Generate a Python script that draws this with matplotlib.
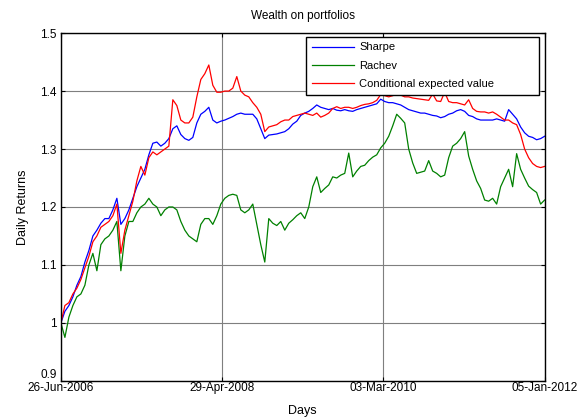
import numpy as np
import pandas as pd
import matplotlib
matplotlib.use("Agg")
import matplotlib.pyplot as plt
import matplotlib.dates as mdates
from matplotlib.ticker import FormatStrFormatter

plt.rcParams['font.family'] = ['Liberation Sans', 'DejaVu Sans']

start_date = "2006-06-26"
end_date = "2012-01-05"
tick_dates = ["2006-06-26", "2008-04-29", "2010-03-03", "2012-01-05"]

sharpe = [1.000, 1.020, 1.030, 1.045, 1.065, 1.080, 1.105, 1.125, 1.150, 1.160,
          1.172, 1.180, 1.180, 1.195, 1.215, 1.170, 1.180, 1.195, 1.215, 1.235,
          1.250, 1.265, 1.290, 1.310, 1.312, 1.305, 1.310, 1.318, 1.335, 1.340,
          1.325, 1.318, 1.315, 1.320, 1.345, 1.360, 1.365, 1.372, 1.350, 1.345,
          1.348, 1.350, 1.353, 1.356, 1.360, 1.362, 1.360, 1.360, 1.360, 1.352,
          1.335, 1.318, 1.324, 1.325, 1.326, 1.328, 1.330, 1.335, 1.343, 1.348,
          1.358, 1.362, 1.365, 1.370, 1.376, 1.372, 1.370, 1.368, 1.370, 1.367,
          1.366, 1.368, 1.366, 1.365, 1.368, 1.370, 1.372, 1.374, 1.376, 1.378,
          1.386, 1.382, 1.380, 1.380, 1.378, 1.376, 1.372, 1.368, 1.366, 1.364,
          1.362, 1.362, 1.360, 1.358, 1.357, 1.354, 1.356, 1.360, 1.362, 1.366,
          1.368, 1.365, 1.358, 1.356, 1.352, 1.350, 1.350, 1.350, 1.350, 1.352,
          1.350, 1.348, 1.368, 1.360, 1.352, 1.338, 1.328, 1.322, 1.320, 1.316,
          1.318, 1.322]

rachev = [1.000, 0.975, 1.010, 1.030, 1.045, 1.050, 1.065, 1.100, 1.120, 1.090,
          1.135, 1.145, 1.150, 1.160, 1.175, 1.090, 1.150, 1.175, 1.175, 1.190,
          1.200, 1.205, 1.215, 1.205, 1.200, 1.185, 1.195, 1.200, 1.200, 1.195,
          1.175, 1.160, 1.150, 1.145, 1.140, 1.170, 1.180, 1.180, 1.170, 1.185,
          1.205, 1.215, 1.220, 1.222, 1.220, 1.195, 1.190, 1.195, 1.205, 1.170,
          1.135, 1.105, 1.180, 1.172, 1.168, 1.175, 1.160, 1.172, 1.178, 1.185,
          1.190, 1.180, 1.200, 1.235, 1.252, 1.225, 1.232, 1.238, 1.252, 1.250,
          1.255, 1.258, 1.293, 1.252, 1.262, 1.270, 1.272, 1.280, 1.286, 1.290,
          1.302, 1.310, 1.322, 1.340, 1.360, 1.353, 1.345, 1.300, 1.276, 1.258,
          1.260, 1.262, 1.280, 1.262, 1.258, 1.252, 1.255, 1.285, 1.305, 1.310,
          1.318, 1.330, 1.288, 1.265, 1.245, 1.232, 1.212, 1.210, 1.215, 1.205,
          1.235, 1.250, 1.265, 1.235, 1.292, 1.265, 1.250, 1.236, 1.230, 1.225,
          1.205, 1.212]

cev = [1.000, 1.030, 1.035, 1.050, 1.060, 1.075, 1.095, 1.115, 1.140, 1.150,
       1.165, 1.170, 1.175, 1.185, 1.205, 1.120, 1.160, 1.185, 1.210, 1.245,
       1.270, 1.255, 1.285, 1.295, 1.290, 1.295, 1.300, 1.305, 1.385, 1.375,
       1.350, 1.345, 1.345, 1.355, 1.390, 1.420, 1.430, 1.445, 1.410, 1.398,
       1.398, 1.400, 1.400, 1.405, 1.425, 1.400, 1.393, 1.390, 1.380, 1.372,
       1.360, 1.330, 1.338, 1.340, 1.342, 1.347, 1.350, 1.350, 1.356, 1.358,
       1.360, 1.362, 1.360, 1.358, 1.362, 1.355, 1.358, 1.362, 1.370, 1.373,
       1.370, 1.372, 1.372, 1.370, 1.372, 1.375, 1.377, 1.378, 1.380, 1.384,
       1.394, 1.392, 1.390, 1.392, 1.395, 1.393, 1.390, 1.390, 1.388, 1.387,
       1.386, 1.385, 1.384, 1.395, 1.383, 1.382, 1.398, 1.382, 1.380, 1.380,
       1.378, 1.376, 1.385, 1.370, 1.365, 1.364, 1.364, 1.362, 1.364, 1.360,
       1.355, 1.350, 1.350, 1.345, 1.342, 1.325, 1.300, 1.285, 1.275, 1.270,
       1.268, 1.270]

labels = ["Sharpe", "Rachev", "Conditional expected value"]
colors = ["#0000ff", "#008000", "#ff0000"]

dates = pd.date_range(start_date, end_date, periods=len(sharpe))

fig = plt.figure(figsize=(5.8, 4.19), dpi=100)
ax = fig.add_axes([0.105, 0.091, 0.834, 0.830])

for series, lab, col in zip([sharpe, rachev, cev], labels, colors):
    ax.plot(dates, series, color=col, lw=0.9, label=lab)

ax.set_xlim(pd.Timestamp(start_date), pd.Timestamp(end_date))
ax.set_ylim(0.9, 1.5)
ax.set_yticks(np.arange(0.9, 1.51, 0.1))
ax.yaxis.set_major_formatter(FormatStrFormatter('%g'))
ax.set_xticks([pd.Timestamp(d) for d in tick_dates])
ax.xaxis.set_major_formatter(mdates.DateFormatter('%d-%b-%Y'))

ax.grid(True, color='#7f7f7f', lw=0.8, ls='-')
ax.set_axisbelow(True)
for s in ax.spines.values():
    s.set_color('black')
    s.set_linewidth(1.0)
ax.tick_params(direction='in', length=3, labelsize=8.5, top=True, right=True)
ax.tick_params(axis='x', pad=1)
ax.tick_params(axis='y', pad=3)

ax.set_title("Wealth on portfolios", fontsize=8.5, pad=10)
ax.set_xlabel("Days", fontsize=9, labelpad=8)
ax.set_ylabel("Daily Returns", fontsize=9, labelpad=8)

fig.canvas.draw()
first = ax.get_yticklabels()[0]
first.set_verticalalignment('bottom')

leg = ax.legend(loc='upper left', bbox_to_anchor=(0.507, 0.802, 0.481, 0.187),
                mode='expand', fontsize=8, frameon=True, fancybox=False,
                edgecolor='black', framealpha=1, handlelength=3.8,
                labelspacing=0.75, borderpad=0.5, handletextpad=0.5,
                borderaxespad=0)
leg.get_frame().set_linewidth(1.0)

fig.savefig("out.png", dpi=100, facecolor='white')
